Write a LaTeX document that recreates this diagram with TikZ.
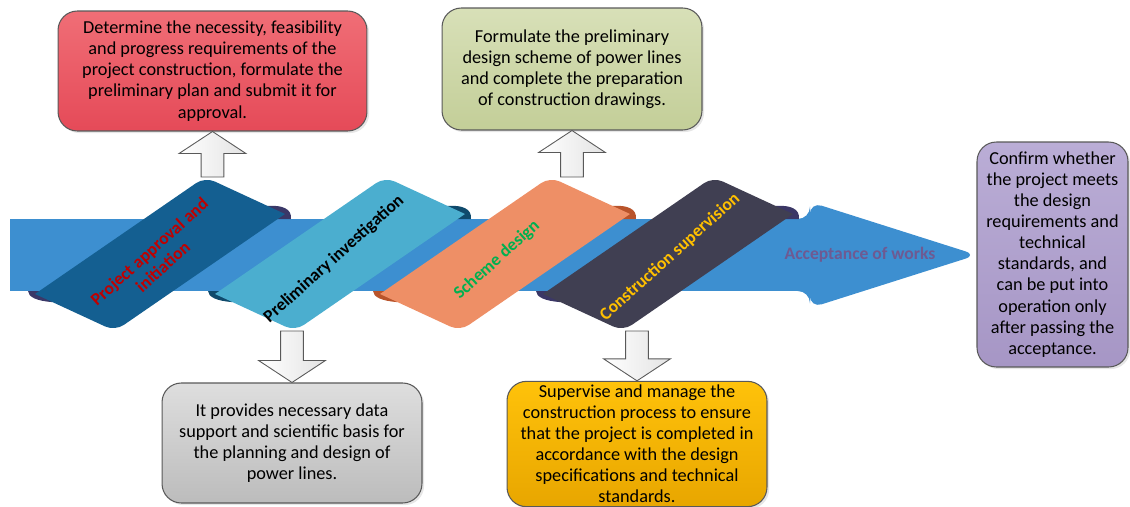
\documentclass[tikz,border=0pt]{standalone}
\usepackage{fontspec}
\setmainfont{Carlito}[BoldFont={Carlito Bold}]
\usetikzlibrary{calc,shadows}

\definecolor{bandblue}{HTML}{3D8FD0}
\definecolor{ribA}{HTML}{145F91}
\definecolor{ribB}{HTML}{4BAECF}
\definecolor{ribC}{HTML}{EE8F66}
\definecolor{ribD}{HTML}{403F52}
\definecolor{curlA}{HTML}{3A3868}
\definecolor{curlB}{HTML}{0F4A6C}
\definecolor{curlC}{HTML}{B9542B}
\definecolor{curlD}{HTML}{3B3766}
\definecolor{projred}{HTML}{C00000}
\definecolor{schgreen}{HTML}{00B050}
\definecolor{supgold}{HTML}{FFC000}
\definecolor{acceptpurple}{HTML}{6E5A92}
\definecolor{boxline}{HTML}{595959}

\tikzset{
	infobox/.style={draw=boxline, line width=0.6pt, rounded corners=11pt, align=center, inner sep=2pt,
		font=\fontsize{10.4}{12}\selectfont, drop shadow={opacity=0.2, shadow xshift=1.2pt, shadow yshift=-1.2pt}},
	ribtext/.style={font=\bfseries\fontsize{10}{11.5}\selectfont, rotate=42, align=center},
	blockarr/.style={draw=boxline, line width=0.5pt, left color=white, right color=gray!22},
}

% ribbon: name, top corner, body colour, curl colour
\newcommand{\ribbon}[4]{%
	\coordinate (#1T) at #2;
	\coordinate (#1R) at ($(#1T)+(80,37)$);
	\coordinate (#1B) at ($(#1T)+(-90,154)$);
	\coordinate (#1L) at ($(#1T)+(-170,117)$);
	\coordinate (#1C) at ($(#1T)+(-45,77)$);
	\fill[#4] ($(#1T)!0.78!(#1R)$) .. controls ($(#1R)+(-2,-9)$) and ($(#1R)+(7,-5)$) .. ($(#1R)+(6,5)$) -- ($(#1R)+(-20,5)$) -- cycle;
	\fill[#4] ($(#1L)+(-7,-3)$) .. controls ($(#1L)+(-7,3)$) and ($(#1L)+(2,7)$) .. ($(#1L)!0.22!(#1B)$) -- ($(#1L)+(25,-3)$) -- cycle;
	\fill[#3] (#1L) [rounded corners=6pt] -- (#1T) [sharp corners] -- (#1R) [rounded corners=6pt] -- (#1B) [sharp corners] -- cycle;
}

% vertical block arrow from #1 (shaft end) to #2 (tip)
\newcommand{\vblock}[2]{%
	\path[blockarr] let \p1=#1, \p2=#2, \n1={sign(\y2-\y1)} in
		(\x2-6.5pt,\y1) -- (\x2-6.5pt,\y2-\n1*12.5pt) -- (\x2-19pt,\y2-\n1*12.5pt) -- (\x2,\y2)
		-- (\x2+19pt,\y2-\n1*12.5pt) -- (\x2+6.5pt,\y2-\n1*12.5pt) -- (\x2+6.5pt,\y1) -- cycle;
}

\begin{document}
\begin{tikzpicture}[x=0.02cm, y=-0.02cm]
	\useasboundingbox (0,0) rectangle (1130,507);

	% band and arrow head
	\fill[bandblue] (10,219) rectangle (815,291);
	\fill[bandblue, rounded corners=7pt] (800,219) -- (810,219) -- (810,202) -- (977,255) -- (810,308) -- (810,291) -- (800,291) -- cycle;
	\node[font=\bfseries\fontsize{10}{12}\selectfont, text=acceptpurple] (accept) at (860,255) {Acceptance of works};

	% ribbons
	\ribbon{r1}{(205,177)}{ribA}{curlA}
	\ribbon{r2}{(385,177)}{ribB}{curlB}
	\ribbon{r3}{(550,177)}{ribC}{curlC}
	\ribbon{r4}{(713,177)}{ribD}{curlD}

	\node[ribtext, text=projred] (r1text) at ($(r1C)+(-4,5)$) {Project approval and\\initiation};
	\node[ribtext, text=black] (r2text) at ($(r2C)+(-6,5)$) {Preliminary investigation};
	\node[ribtext, text=schgreen] (r3text) at ($(r3C)+(-8,6)$) {Scheme design};
	\node[ribtext, text=supgold] (r4text) at ($(r4C)+(2,3)$) {Construction supervision};

	% boxes
	\node[infobox, minimum width=6.18cm, minimum height=2.4cm, top color={rgb,255:red,240;green,110;blue,118}, bottom color={rgb,255:red,229;green,74;blue,88}] (approvebox) at (212.5,71)
		{Determine the necessity, feasibility\\and progress requirements of the\\project construction, formulate the\\preliminary plan and submit it for\\approval.};
	\node[infobox, minimum width=5.2cm, minimum height=2.44cm, top color={rgb,255:red,216;green,224;blue,184}, bottom color={rgb,255:red,195;green,206;blue,152}] (designbox) at (572,69)
		{Formulate the preliminary\\design scheme of power lines\\and complete the preparation\\of construction drawings.};
	\node[infobox, minimum width=5.2cm, minimum height=2.4cm, top color={rgb,255:red,222;green,222;blue,222}, bottom color={rgb,255:red,188;green,188;blue,188}] (investbox) at (292,443)
		{It provides necessary data\\support and scientific basis for\\the planning and design of\\power lines.};
	\node[infobox, minimum width=5.2cm, minimum height=2.44cm, top color={rgb,255:red,255;green,194;blue,10}, bottom color={rgb,255:red,232;green,166;blue,0}] (supervbox) at (637,444)
		{Supervise and manage the\\construction process to ensure\\that the project is completed in\\accordance with the design\\specifications and technical\\standards.};
	\node[infobox, minimum width=3.02cm, minimum height=4.5cm, top color={rgb,255:red,186;green,173;blue,214}, bottom color={rgb,255:red,166;green,150;blue,197}] (acceptbox) at (1052.5,254.5)
		{Confirm whether\\the project meets\\the design\\requirements and\\technical\\standards, and\\can be put into\\operation only\\after passing the\\acceptance.};

	% block arrows
	\vblock{(r1T)}{(approvebox.south)}
	\vblock{(r3T)}{(designbox.south)}
	\vblock{(r2B)}{(investbox.north)}
	\vblock{(r4B)}{(supervbox.north)}

\end{tikzpicture}
\end{document}
